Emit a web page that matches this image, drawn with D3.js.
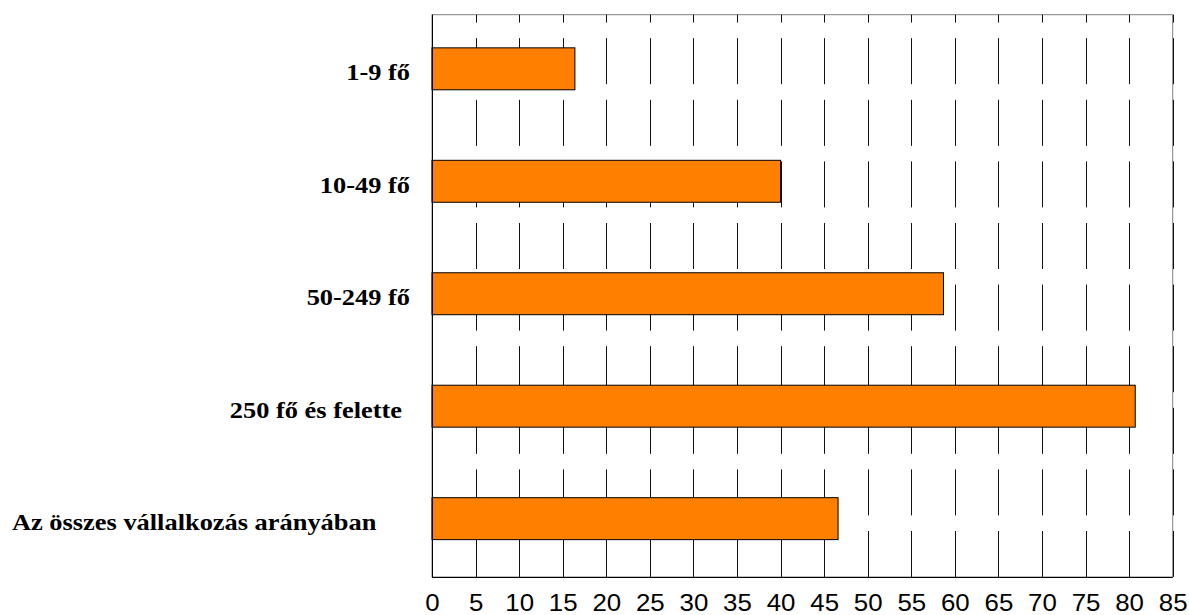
<!DOCTYPE html>
<html>
<head>
<meta charset="utf-8">
<script src="https://cdn.jsdelivr.net/npm/d3@7"></script>
<style>
  html, body { margin: 0; padding: 0; background: #fff; }
  svg { display: block; }
</style>
</head>
<body>
<svg id="chart" width="1189" height="615"></svg>
<script>
// Category labels (top to bottom) and their values
const categories = [
  "1-9 fő",
  "10-49 fő",
  "50-249 fő",
  "250 fő és felette",
  "Az összes vállalkozás arányában"
];
const values = [16.4, 40.0, 58.7, 80.7, 46.6];
const tickValues = [0, 5, 10, 15, 20, 25, 30, 35, 40, 45, 50, 55, 60, 65, 70, 75, 80, 85];

const svg = d3.select("#chart");
const plot = { left: 432, right: 1172.7, top: 14.7, bottom: 577 };
const textStretch = 1.1; // text is drawn slightly widened

const x = d3.scaleLinear().domain([0, 85]).range([plot.left, plot.right]);
const y = d3.scaleBand()
  .domain(categories)
  .range([plot.top, plot.bottom])
  .paddingInner(0.627)
  .paddingOuter(0.3135)
  .align(0.47);

// Plot area frame
svg.append("rect")
  .attr("x", plot.left).attr("y", plot.top)
  .attr("width", plot.right - plot.left).attr("height", plot.bottom - plot.top)
  .attr("fill", "none").attr("stroke", "#808080").attr("stroke-width", 1);

// Dashed vertical gridlines, dash pattern starting at the bottom
svg.append("g")
  .selectAll("line")
  .data(tickValues.slice(1))
  .join("line")
  .attr("x1", d => Math.round(x(d)) + 0.5)
  .attr("x2", d => Math.round(x(d)) + 0.5)
  .attr("y1", plot.bottom)
  .attr("y2", plot.top)
  .attr("stroke", "#111")
  .attr("stroke-width", 1)
  .attr("stroke-dasharray", "46 15.6");

// Bars
svg.append("g")
  .selectAll("rect")
  .data(categories)
  .join("rect")
  .attr("x", x(0))
  .attr("y", d => y(d))
  .attr("width", (d, i) => x(values[i]) - x(0))
  .attr("height", y.bandwidth())
  .attr("fill", "#FF8000")
  .attr("stroke", "#000")
  .attr("stroke-width", 1);

// Axis lines
svg.append("line")
  .attr("x1", plot.left + 0.5).attr("x2", plot.left + 0.5)
  .attr("y1", plot.top).attr("y2", plot.bottom)
  .attr("stroke", "#000").attr("stroke-width", 1);
svg.append("line")
  .attr("x1", plot.left).attr("x2", plot.right)
  .attr("y1", plot.bottom + 0.5).attr("y2", plot.bottom + 0.5)
  .attr("stroke", "#000").attr("stroke-width", 1);

// Bottom value axis labels
const xAxis = svg.append("g")
  .attr("transform", `translate(0,${plot.bottom})`)
  .call(d3.axisBottom(x).tickValues(tickValues).tickSize(0).tickFormat(d3.format("d")));
xAxis.select(".domain").remove();
xAxis.selectAll("text")
  .attr("y", null)
  .attr("dy", null)
  .attr("transform", `translate(0,34) scale(${textStretch},1)`)
  .attr("font-family", "Liberation Sans, Arial, sans-serif")
  .attr("font-size", 23.5)
  .attr("fill", "#000");

// Category labels, right-aligned beside the axis; the long label starts at the left margin
svg.append("g")
  .selectAll("text")
  .data(categories)
  .join("text")
  .attr("text-anchor", (d, i) => i === categories.length - 1 ? "start" : "end")
  .attr("transform", (d, i) => {
    const tx = i === categories.length - 1 ? 12 : (i === 3 ? 402 : 410);
    const ty = y(d) + y.bandwidth() / 2 + 11.5;
    return `translate(${tx},${ty}) scale(${textStretch},1)`;
  })
  .attr("font-family", "Liberation Serif, Times New Roman, serif")
  .attr("font-weight", "bold")
  .attr("font-size", 24)
  .attr("fill", "#000")
  .text(d => d);
</script>
</body>
</html>
